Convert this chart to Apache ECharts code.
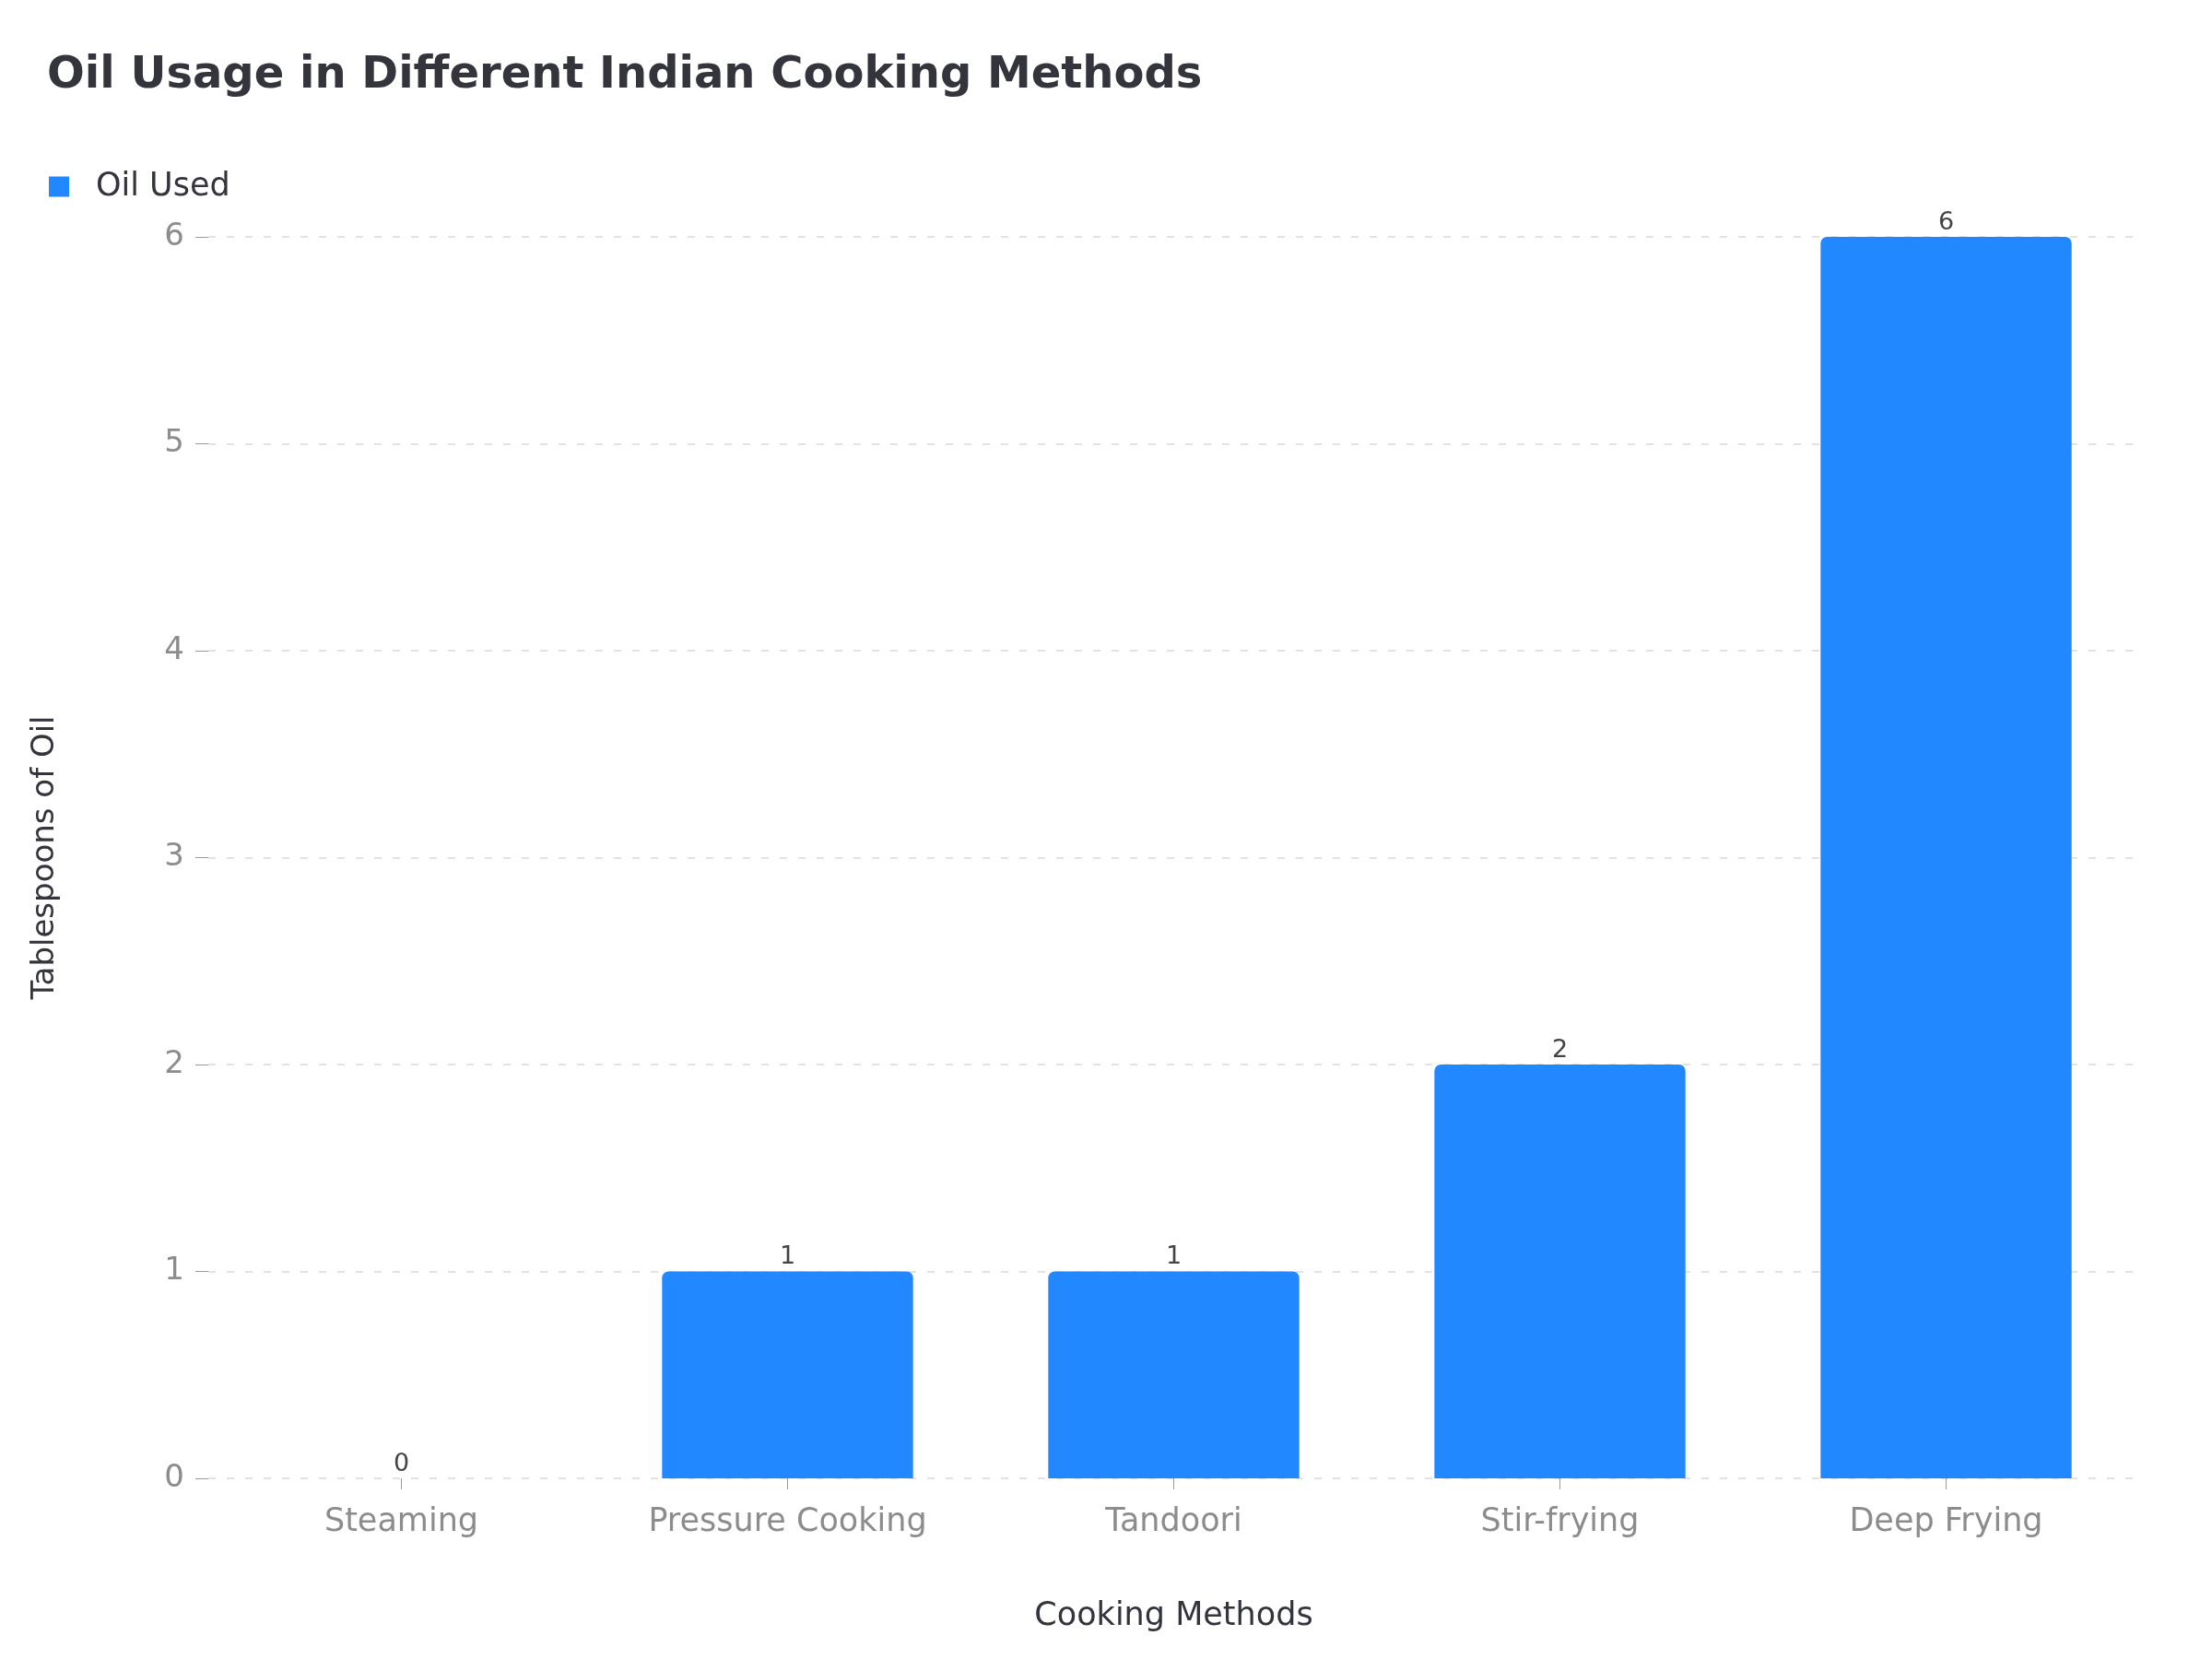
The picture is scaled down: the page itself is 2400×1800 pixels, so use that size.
<!DOCTYPE html>
<html><head><meta charset="utf-8">
<script src="https://cdn.jsdelivr.net/npm/echarts@6/dist/echarts.min.js"></script>
<style>html,body{margin:0;padding:0;background:#fff}#c{width:2400px;height:1800px}</style>
</head><body><div id="c"></div>
<script>
const categories = ["Steaming","Pressure Cooking","Tandoori","Stir-frying","Deep Frying"];
const oilUsed = [0,1,1,2,6];
const yTicks = [0,1,2,3,4,5,6];
const chart = echarts.init(document.getElementById('c'));
const F = 'DejaVu Sans';
chart.setOption({
  animation:false,
  title:{text:'Oil Usage in Different Indian Cooking Methods',left:46,top:54,
    textStyle:{fontFamily:F,fontSize:48,fontWeight:'bold',color:'#33343c'}},
  legend:{left:48,top:180,itemWidth:22,itemHeight:22,icon:'rect',
    textStyle:{fontFamily:F,fontSize:35,color:'#33343c',padding:[0,0,0,24]},data:['Oil Used']},
  grid:{left:226,right:79,top:257,bottom:196,containLabel:false},
  xAxis:{type:'category',data:categories,name:'Cooking Methods',nameLocation:'middle',nameGap:132,
    nameTextStyle:{fontFamily:F,fontSize:35,color:'#33343c'},
    axisLine:{show:false},axisTick:{show:true,alignWithLabel:true,length:12,lineStyle:{color:'#999'}},
    axisLabel:{fontFamily:F,fontSize:35,color:'#8c8c8c',margin:30}},
  yAxis:{type:'value',min:yTicks[0],max:yTicks[yTicks.length-1],interval:1,name:'Tablespoons of Oil',
    nameLocation:'middle',nameGap:160,nameTextStyle:{fontFamily:F,fontSize:34,color:'#33343c'},
    axisLine:{show:false},axisTick:{show:true,length:14,lineStyle:{color:'#999'}},
    axisLabel:{fontFamily:F,fontSize:34,color:'#8c8c8c',margin:26},
    splitLine:{lineStyle:{type:[8,12],color:'#e3e3e3',width:2}}},
  series:[{name:'Oil Used',type:'bar',data:oilUsed,barWidth:'65%',
    itemStyle:{color:'#2288ff',borderRadius:[7,7,0,0]},
    label:{show:true,position:'top',distance:2,fontFamily:F,fontSize:27,color:'#444'}}]
});
</script></body></html>
